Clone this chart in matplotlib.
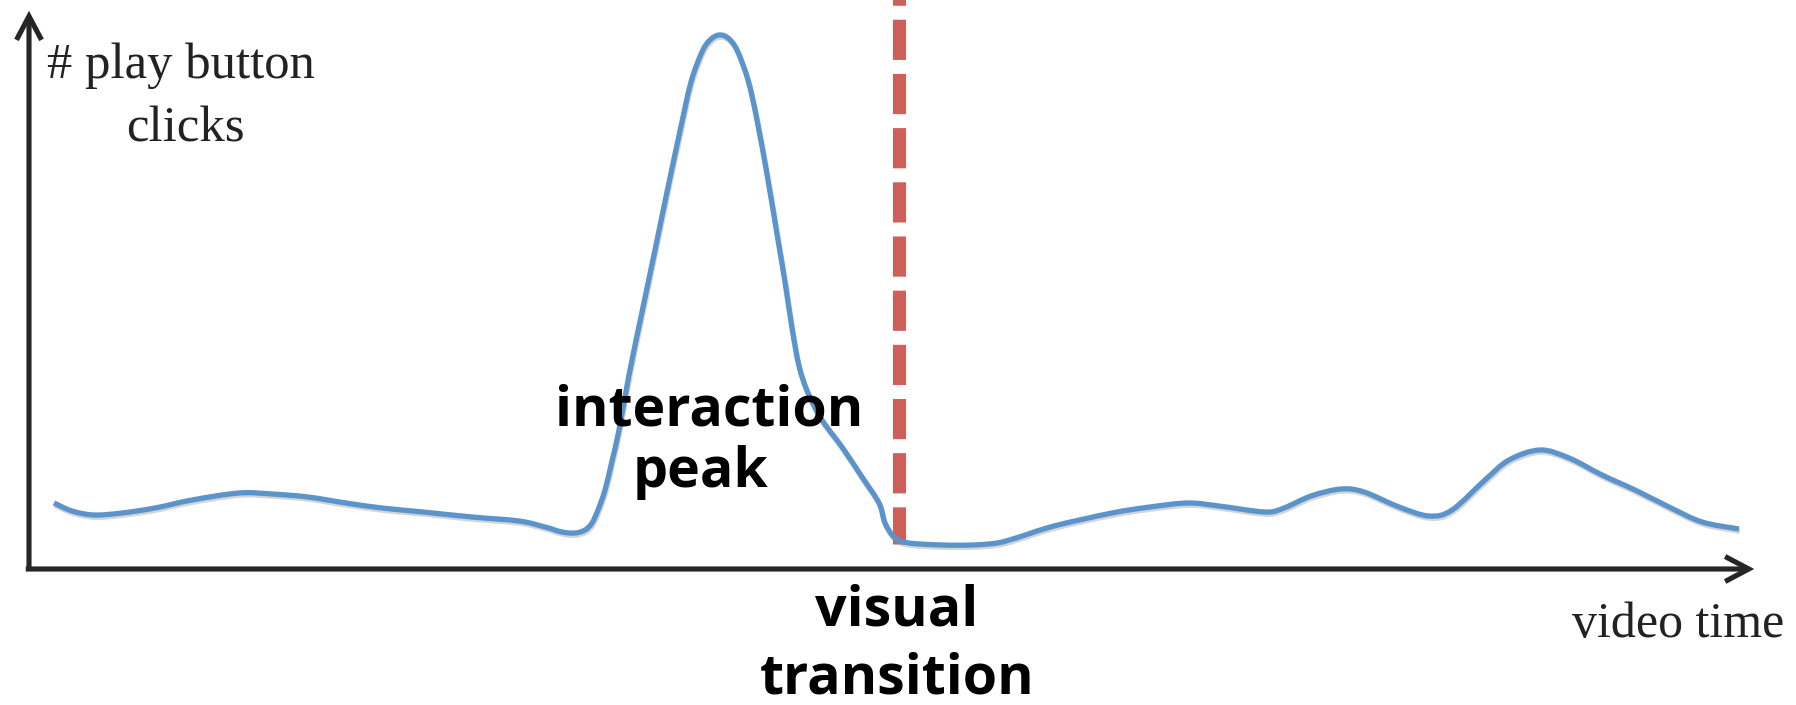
import numpy as np
import matplotlib
matplotlib.use("Agg")
import matplotlib.pyplot as plt
from matplotlib.path import Path
from matplotlib.patches import PathPatch, FancyArrowPatch, ArrowStyle
import matplotlib.patheffects as pe

# ---- data (arbitrary units) ----
video_time = [25, 43, 65, 93, 126, 163, 210, 243, 279, 317, 353, 394, 443, 490, 516, 533,
              546, 556, 563, 569, 576, 583, 590, 600, 613, 626, 638, 651, 662, 673,
              681, 690, 699, 708, 719, 728, 739, 749, 756, 763, 770, 779, 793, 813,
              833, 850, 856, 866, 880, 913, 943, 968, 987, 1025, 1083, 1121, 1159, 1190,
              1236, 1255, 1282, 1312, 1335, 1370, 1400, 1423, 1456, 1480, 1511, 1540,
              1573, 1606, 1640, 1673, 1710]
play_clicks = [66, 58, 54, 56, 61, 69, 76, 75, 72, 66, 61, 57, 52, 48, 42, 37,
               36, 39, 46, 59, 79, 108, 139, 194, 257, 319, 377, 438, 487, 517,
               529, 534, 531, 519, 489, 449, 389, 329, 287, 241, 203, 176, 149, 122,
               92, 66, 46, 31, 26, 24, 24, 26, 31, 43, 56, 62, 66, 63,
               57, 61, 73, 80, 77, 62, 53, 59, 89, 109, 119, 111,
               94, 79, 62, 47, 40]
transition_time = 870
axis_time_max = 1728
axis_clicks_max = 561

y_label_lines = ["# play button", "clicks"]
x_label = "video time"
peak_label = ["interaction", "peak"]
transition_label = ["visual", "transition"]

# ---- figure ----
W, H = 1796, 705
fig = plt.figure(figsize=(W / 100, H / 100), dpi=100)
ax = fig.add_axes([0, 0, 1, 1])
ax.set_xlim(-29, W - 29)
ax.set_ylim(-(H - 569), 569)
ax.axis("off")

axis_color = "#262626"
blue = "#5B93CB"
red = "#CF5F5B"

# axes arrows
for start, end in [((0, -3), (0, axis_clicks_max)), ((-6, 0), (axis_time_max, 0))]:
    arr = FancyArrowPatch(start, end,
                          arrowstyle=ArrowStyle("->", head_length=17, head_width=9),
                          mutation_scale=1, lw=3.7, color=axis_color,
                          capstyle="butt", joinstyle="miter", zorder=3)
    ax.add_patch(arr)

# smooth curve through the points (Catmull-Rom -> cubic Bezier)
pts = np.column_stack([video_time, play_clicks]).astype(float)
n = len(pts)
verts = [pts[0]]
codes = [Path.MOVETO]
for i in range(n - 1):
    p0 = pts[max(i - 1, 0)]
    p1 = pts[i]
    p2 = pts[i + 1]
    p3 = pts[min(i + 2, n - 1)]
    c1 = p1 + (p2 - p0) / 6.0
    c2 = p2 - (p3 - p1) / 6.0
    verts += [c1, c2, p2]
    codes += [Path.CURVE4] * 3
curve = PathPatch(Path(verts, codes), fill=False, ec=blue, lw=3.8,
                  capstyle="butt", joinstyle="round", zorder=4)
curve.set_path_effects([pe.SimpleLineShadow(offset=(0.6, -1.6), shadow_color="#888888", alpha=0.35),
                        pe.Normal()])
ax.add_patch(curve)

# transition dashed line
ax.plot([transition_time, transition_time], [569 + 1, 25], color=red, lw=9.4,
        linestyle=(2.6, (3.08, 1.07)), solid_capstyle="butt", dash_capstyle="butt", zorder=2)

# texts
serif = ["Liberation Serif", "DejaVu Serif"]
sans = ["Open Sans", "DejaVu Sans"]
ax.text(18, 491, y_label_lines[0], family=serif, fontsize=36.5, color="#222222",
        ha="left", va="baseline")
ax.text(156, 427, y_label_lines[1], family=serif, fontsize=36.5, color="#222222",
        ha="center", va="baseline")
ax.text(1543, -68, x_label, family=serif, fontsize=36, color="#222222",
        ha="left", va="baseline")
ax.text(680, 144, peak_label[0], family=sans, fontweight="bold", fontsize=40,
        color="black", ha="center", va="baseline", zorder=5)
ax.text(672, 82, peak_label[1], family=sans, fontweight="bold", fontsize=40,
        color="black", ha="center", va="baseline", zorder=5)
ax.text(transition_time - 2, -56, transition_label[0], family=sans, fontweight="bold",
        fontsize=40, color="black", ha="center", va="baseline")
ax.text(transition_time - 2, -125, transition_label[1], family=sans, fontweight="bold",
        fontsize=40, color="black", ha="center", va="baseline")

fig.savefig("out.png", dpi=100, facecolor="white")
